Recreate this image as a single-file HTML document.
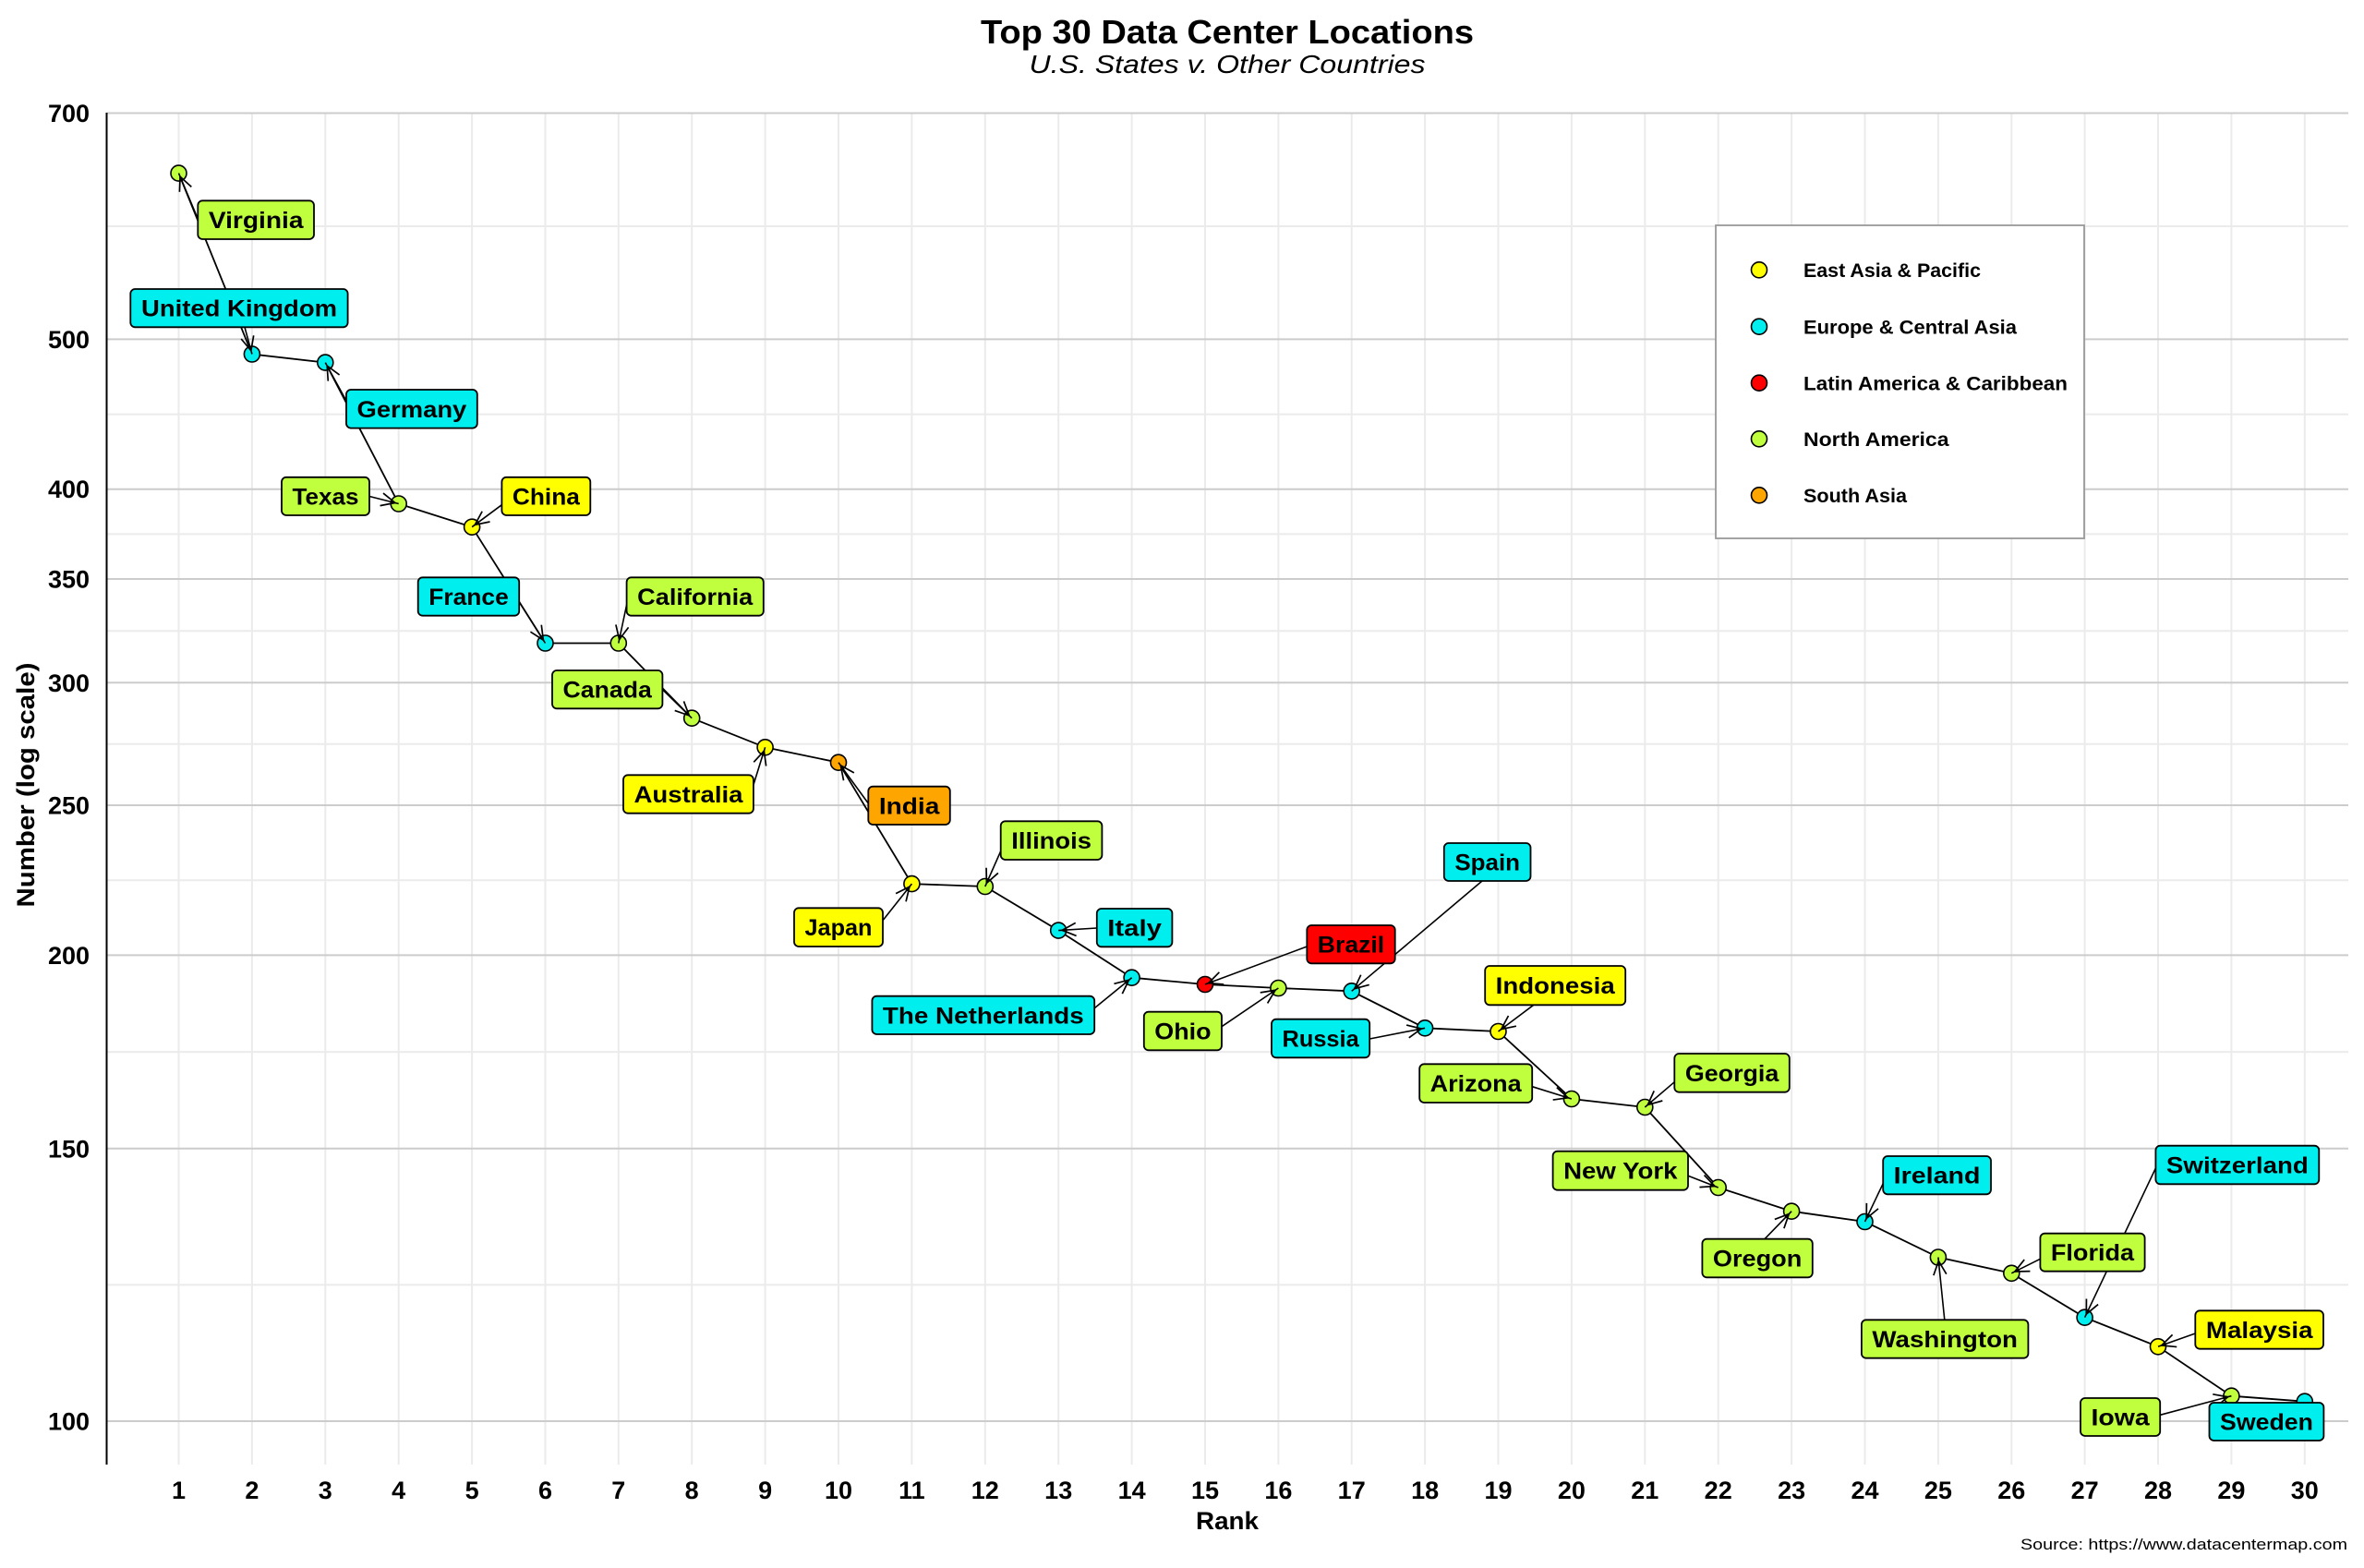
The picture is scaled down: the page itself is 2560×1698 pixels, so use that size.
<!DOCTYPE html>
<html><head><meta charset="utf-8"><style>
html,body{margin:0;padding:0;background:#fff;}
svg{display:block;}
text{font-family:"Liberation Sans",sans-serif;}
</style></head><body>
<svg width="2560" height="1698" viewBox="0 0 2560 1698" xmlns="http://www.w3.org/2000/svg">
<defs>
<marker id="ah" viewBox="-20 -10 30 20" markerWidth="30" markerHeight="20" refX="4" refY="0" markerUnits="userSpaceOnUse" orient="auto">
<path d="M-15,-7 L0,0 L-15,7" fill="none" stroke="#000" stroke-width="1.7"/>
</marker>
</defs>
<rect width="2560" height="1698" fill="#fff"/>
<!-- title -->
<text x="1329" y="47" font-size="36" font-weight="bold" text-anchor="middle" textLength="534" lengthAdjust="spacingAndGlyphs">Top 30 Data Center Locations</text>
<text x="1329" y="79" font-size="28" font-style="italic" text-anchor="middle" textLength="429" lengthAdjust="spacingAndGlyphs">U.S. States v. Other Countries</text>

<!-- minor horizontal grid -->
<g stroke="#ebebeb" stroke-width="2">
<line x1="116" x2="2543" y1="245" y2="245"/>
<line x1="116" x2="2543" y1="448.6" y2="448.6"/>
<line x1="116" x2="2543" y1="578.4" y2="578.4"/>
<line x1="116" x2="2543" y1="683.2" y2="683.2"/>
<line x1="116" x2="2543" y1="805.7" y2="805.7"/>
<line x1="116" x2="2543" y1="953.2" y2="953.2"/>
<line x1="116" x2="2543" y1="1139.1" y2="1139.1"/>
<line x1="116" x2="2543" y1="1391.4" y2="1391.4"/>
</g>
<!-- vertical grid -->
<g stroke="#ebebeb" stroke-width="2">
<line y1="122.5" y2="1586" x1="193.5" x2="193.5"/>
<line y1="122.5" y2="1586" x1="272.9" x2="272.9"/>
<line y1="122.5" y2="1586" x1="352.3" x2="352.3"/>
<line y1="122.5" y2="1586" x1="431.7" x2="431.7"/>
<line y1="122.5" y2="1586" x1="511.1" x2="511.1"/>
<line y1="122.5" y2="1586" x1="590.5" x2="590.5"/>
<line y1="122.5" y2="1586" x1="669.8" x2="669.8"/>
<line y1="122.5" y2="1586" x1="749.2" x2="749.2"/>
<line y1="122.5" y2="1586" x1="828.6" x2="828.6"/>
<line y1="122.5" y2="1586" x1="908.0" x2="908.0"/>
<line y1="122.5" y2="1586" x1="987.4" x2="987.4"/>
<line y1="122.5" y2="1586" x1="1066.8" x2="1066.8"/>
<line y1="122.5" y2="1586" x1="1146.2" x2="1146.2"/>
<line y1="122.5" y2="1586" x1="1225.6" x2="1225.6"/>
<line y1="122.5" y2="1586" x1="1305.0" x2="1305.0"/>
<line y1="122.5" y2="1586" x1="1384.4" x2="1384.4"/>
<line y1="122.5" y2="1586" x1="1463.7" x2="1463.7"/>
<line y1="122.5" y2="1586" x1="1543.1" x2="1543.1"/>
<line y1="122.5" y2="1586" x1="1622.5" x2="1622.5"/>
<line y1="122.5" y2="1586" x1="1701.9" x2="1701.9"/>
<line y1="122.5" y2="1586" x1="1781.3" x2="1781.3"/>
<line y1="122.5" y2="1586" x1="1860.7" x2="1860.7"/>
<line y1="122.5" y2="1586" x1="1940.1" x2="1940.1"/>
<line y1="122.5" y2="1586" x1="2019.5" x2="2019.5"/>
<line y1="122.5" y2="1586" x1="2098.9" x2="2098.9"/>
<line y1="122.5" y2="1586" x1="2178.3" x2="2178.3"/>
<line y1="122.5" y2="1586" x1="2257.6" x2="2257.6"/>
<line y1="122.5" y2="1586" x1="2337.0" x2="2337.0"/>
<line y1="122.5" y2="1586" x1="2416.4" x2="2416.4"/>
<line y1="122.5" y2="1586" x1="2495.8" x2="2495.8"/>
</g>
<!-- major horizontal grid -->
<g stroke="#cccccc" stroke-width="2">
<line x1="116" x2="2543" y1="122.5" y2="122.5"/>
<line x1="116" x2="2543" y1="367.4" y2="367.4"/>
<line x1="116" x2="2543" y1="529.8" y2="529.8"/>
<line x1="116" x2="2543" y1="627" y2="627"/>
<line x1="116" x2="2543" y1="739.3" y2="739.3"/>
<line x1="116" x2="2543" y1="872" y2="872"/>
<line x1="116" x2="2543" y1="1034.4" y2="1034.4"/>
<line x1="116" x2="2543" y1="1243.8" y2="1243.8"/>
<line x1="116" x2="2543" y1="1539" y2="1539"/>
</g>
<!-- left spine -->
<line x1="115.5" x2="115.5" y1="122" y2="1586" stroke="#000" stroke-width="2"/>

<!-- y tick labels -->
<g font-size="27" font-weight="bold" text-anchor="end">
<text x="97" y="132">700</text>
<text x="97" y="377">500</text>
<text x="97" y="539">400</text>
<text x="97" y="636.5">350</text>
<text x="97" y="749">300</text>
<text x="97" y="881.5">250</text>
<text x="97" y="1044">200</text>
<text x="97" y="1253.5">150</text>
<text x="97" y="1548.5">100</text>
</g>
<!-- x tick labels -->
<g font-size="27" font-weight="bold" text-anchor="middle">
<text x="193.5" y="1623">1</text>
<text x="272.9" y="1623">2</text>
<text x="352.3" y="1623">3</text>
<text x="431.7" y="1623">4</text>
<text x="511.1" y="1623">5</text>
<text x="590.5" y="1623">6</text>
<text x="669.8" y="1623">7</text>
<text x="749.2" y="1623">8</text>
<text x="828.6" y="1623">9</text>
<text x="908.0" y="1623">10</text>
<text x="987.4" y="1623">11</text>
<text x="1066.8" y="1623">12</text>
<text x="1146.2" y="1623">13</text>
<text x="1225.6" y="1623">14</text>
<text x="1305.0" y="1623">15</text>
<text x="1384.4" y="1623">16</text>
<text x="1463.7" y="1623">17</text>
<text x="1543.1" y="1623">18</text>
<text x="1622.5" y="1623">19</text>
<text x="1701.9" y="1623">20</text>
<text x="1781.3" y="1623">21</text>
<text x="1860.7" y="1623">22</text>
<text x="1940.1" y="1623">23</text>
<text x="2019.5" y="1623">24</text>
<text x="2098.9" y="1623">25</text>
<text x="2178.3" y="1623">26</text>
<text x="2257.6" y="1623">27</text>
<text x="2337.0" y="1623">28</text>
<text x="2416.4" y="1623">29</text>
<text x="2495.8" y="1623">30</text>
</g>
<text x="1329" y="1656" font-size="27" font-weight="bold" text-anchor="middle" textLength="68" lengthAdjust="spacingAndGlyphs">Rank</text>
<text transform="translate(37,850) rotate(-90)" x="0" y="0" font-size="27" font-weight="bold" text-anchor="middle" textLength="265" lengthAdjust="spacingAndGlyphs">Number (log scale)</text>
<text x="2542" y="1678" font-size="17" text-anchor="end" textLength="354" lengthAdjust="spacingAndGlyphs">Source: https://www.datacentermap.com</text>

<!-- data line -->
<polyline fill="none" stroke="#000" stroke-width="1.8" points="193.5,187.6 272.9,383.5 352.3,392.6 431.7,545.5 511.1,570.7 590.5,696.5 669.8,696.5 749.2,777.7 828.6,809.3 908.0,825.7 987.4,957.1 1066.8,960 1146.2,1007.6 1225.6,1058.7 1305.0,1066 1384.4,1070 1463.7,1073.3 1543.1,1113.3 1622.5,1117 1701.9,1190 1781.3,1199 1860.7,1286 1940.1,1311.7 2019.5,1323 2098.9,1361.5 2178.3,1378.8 2257.6,1426.7 2337.0,1458.3 2416.4,1511.7 2495.8,1517.7"/>

<!-- markers -->
<g stroke="#000" stroke-width="1.6">
<circle cx="193.5" cy="187.6" r="8.5" fill="#c0ff3e"/>
<circle cx="272.9" cy="383.5" r="8.5" fill="#00eeee"/>
<circle cx="352.3" cy="392.6" r="8.5" fill="#00eeee"/>
<circle cx="431.7" cy="545.5" r="8.5" fill="#c0ff3e"/>
<circle cx="511.1" cy="570.7" r="8.5" fill="#ffff00"/>
<circle cx="590.5" cy="696.5" r="8.5" fill="#00eeee"/>
<circle cx="669.8" cy="696.5" r="8.5" fill="#c0ff3e"/>
<circle cx="749.2" cy="777.7" r="8.5" fill="#c0ff3e"/>
<circle cx="828.6" cy="809.3" r="8.5" fill="#ffff00"/>
<circle cx="908.0" cy="825.7" r="8.5" fill="#ffa500"/>
<circle cx="987.4" cy="957.1" r="8.5" fill="#ffff00"/>
<circle cx="1066.8" cy="960" r="8.5" fill="#c0ff3e"/>
<circle cx="1146.2" cy="1007.6" r="8.5" fill="#00eeee"/>
<circle cx="1225.6" cy="1058.7" r="8.5" fill="#00eeee"/>
<circle cx="1305.0" cy="1066" r="8.5" fill="#ff0000"/>
<circle cx="1384.4" cy="1070" r="8.5" fill="#c0ff3e"/>
<circle cx="1463.7" cy="1073.3" r="8.5" fill="#00eeee"/>
<circle cx="1543.1" cy="1113.3" r="8.5" fill="#00eeee"/>
<circle cx="1622.5" cy="1117" r="8.5" fill="#ffff00"/>
<circle cx="1701.9" cy="1190" r="8.5" fill="#c0ff3e"/>
<circle cx="1781.3" cy="1199" r="8.5" fill="#c0ff3e"/>
<circle cx="1860.7" cy="1286" r="8.5" fill="#c0ff3e"/>
<circle cx="1940.1" cy="1311.7" r="8.5" fill="#c0ff3e"/>
<circle cx="2019.5" cy="1323" r="8.5" fill="#00eeee"/>
<circle cx="2098.9" cy="1361.5" r="8.5" fill="#c0ff3e"/>
<circle cx="2178.3" cy="1378.8" r="8.5" fill="#c0ff3e"/>
<circle cx="2257.6" cy="1426.7" r="8.5" fill="#00eeee"/>
<circle cx="2337.0" cy="1458.3" r="8.5" fill="#ffff00"/>
<circle cx="2416.4" cy="1511.7" r="8.5" fill="#c0ff3e"/>
<circle cx="2495.8" cy="1517.7" r="8.5" fill="#00eeee"/>
</g>

<!-- arrows -->
<g stroke="#000" stroke-width="1.6" fill="none" marker-end="url(#ah)">
<line x1="214.3" y1="237" x2="193.5" y2="187.6"/>
<line x1="265" y1="354.3" x2="272.9" y2="383.5"/>
<line x1="375" y1="434" x2="352.3" y2="392.6"/>
<line x1="400" y1="537.5" x2="431.7" y2="545.5"/>
<line x1="543.4" y1="546.7" x2="511.1" y2="570.7"/>
<line x1="562.2" y1="651.7" x2="590.5" y2="696.5"/>
<line x1="678.6" y1="655" x2="669.8" y2="696.5"/>
<line x1="717.4" y1="746.7" x2="749.2" y2="777.7"/>
<line x1="815.9" y1="850" x2="828.6" y2="809.3"/>
<line x1="940.3" y1="870" x2="908.0" y2="825.7"/>
<line x1="956" y1="996.7" x2="987.4" y2="957.1"/>
<line x1="1083.7" y1="921.7" x2="1066.8" y2="960"/>
<line x1="1187.8" y1="1005" x2="1146.2" y2="1007.6"/>
<line x1="1185.2" y1="1091.7" x2="1225.6" y2="1058.7"/>
<line x1="1415.3" y1="1025" x2="1305.0" y2="1066"/>
<line x1="1323" y1="1111.7" x2="1384.4" y2="1070"/>
<line x1="1605" y1="954" x2="1463.7" y2="1073.3"/>
<line x1="1483.2" y1="1125" x2="1543.1" y2="1113.3"/>
<line x1="1660.7" y1="1088.3" x2="1622.5" y2="1117"/>
<line x1="1659.2" y1="1176.7" x2="1701.9" y2="1190"/>
<line x1="1813.3" y1="1171.7" x2="1781.3" y2="1199"/>
<line x1="1828" y1="1273.3" x2="1860.7" y2="1286"/>
<line x1="1911" y1="1341.7" x2="1940.1" y2="1311.7"/>
<line x1="2039.2" y1="1281.7" x2="2019.5" y2="1323"/>
<line x1="2105.8" y1="1429.3" x2="2098.9" y2="1361.5"/>
<line x1="2209.4" y1="1363.3" x2="2178.3" y2="1378.8"/>
<line x1="2334.4" y1="1265" x2="2257.6" y2="1426.7"/>
<line x1="2377.3" y1="1444" x2="2337.0" y2="1458.3"/>
<line x1="2339.2" y1="1532.3" x2="2416.4" y2="1511.7"/>
</g>

<!-- label boxes -->
<g stroke="#000" stroke-width="1.8">
<rect x="214.3" y="217.3" width="125.7" height="41.7" rx="5" fill="#c0ff3e"/>
<rect x="141.3" y="313" width="235.3" height="41.3" rx="5" fill="#00eeee"/>
<rect x="375" y="422" width="141.8" height="41.6" rx="5" fill="#00eeee"/>
<rect x="305" y="516.8" width="95" height="41.2" rx="5" fill="#c0ff3e"/>
<rect x="543.4" y="516.8" width="95.9" height="41.2" rx="5" fill="#ffff00"/>
<rect x="452.7" y="625.3" width="109.5" height="41.4" rx="5" fill="#00eeee"/>
<rect x="678.6" y="625.3" width="148.2" height="41.4" rx="5" fill="#c0ff3e"/>
<rect x="598" y="726" width="119.4" height="41.3" rx="5" fill="#c0ff3e"/>
<rect x="675" y="839.3" width="140.9" height="41.4" rx="5" fill="#ffff00"/>
<rect x="940.3" y="851.7" width="88.5" height="41.3" rx="5" fill="#ffa500"/>
<rect x="860" y="983.3" width="96" height="41.7" rx="5" fill="#ffff00"/>
<rect x="1083.7" y="889.3" width="109.7" height="41.7" rx="5" fill="#c0ff3e"/>
<rect x="1187.8" y="984" width="81.6" height="41.3" rx="5" fill="#00eeee"/>
<rect x="944.4" y="1078.7" width="240.8" height="41.3" rx="5" fill="#00eeee"/>
<rect x="1415.3" y="1002" width="95.4" height="41.3" rx="5" fill="#ff0000"/>
<rect x="1238.8" y="1095.7" width="84.2" height="41.6" rx="5" fill="#c0ff3e"/>
<rect x="1563.8" y="913" width="93.7" height="41" rx="5" fill="#00eeee"/>
<rect x="1377" y="1103.7" width="106.2" height="41.6" rx="5" fill="#00eeee"/>
<rect x="1608.2" y="1046" width="152" height="42.3" rx="5" fill="#ffff00"/>
<rect x="1537.2" y="1152.3" width="122" height="41.7" rx="5" fill="#c0ff3e"/>
<rect x="1813.3" y="1141" width="124.5" height="41.7" rx="5" fill="#c0ff3e"/>
<rect x="1681.6" y="1246.7" width="146.4" height="42" rx="5" fill="#c0ff3e"/>
<rect x="1843.4" y="1341.7" width="119.4" height="41.6" rx="5" fill="#c0ff3e"/>
<rect x="2039.2" y="1252" width="116.8" height="41.3" rx="5" fill="#00eeee"/>
<rect x="2015.9" y="1429.3" width="180.5" height="41.4" rx="5" fill="#c0ff3e"/>
<rect x="2209.4" y="1335.7" width="113.2" height="41" rx="5" fill="#c0ff3e"/>
<rect x="2334.4" y="1240.7" width="176.9" height="41.6" rx="5" fill="#00eeee"/>
<rect x="2377.3" y="1419.3" width="138.7" height="41.4" rx="5" fill="#ffff00"/>
<rect x="2253" y="1514" width="86.2" height="41" rx="5" fill="#c0ff3e"/>
<rect x="2392.5" y="1519" width="123.9" height="41" rx="5" fill="#00eeee"/>
</g>
<g font-size="25" font-weight="bold" text-anchor="middle" lengthAdjust="spacingAndGlyphs">
<text x="277.2" y="247.2" textLength="102.7" lengthAdjust="spacingAndGlyphs">Virginia</text>
<text x="259" y="342.7" textLength="212" lengthAdjust="spacingAndGlyphs">United Kingdom</text>
<text x="445.9" y="451.8" textLength="118.8" lengthAdjust="spacingAndGlyphs">Germany</text>
<text x="352.5" y="546.4" textLength="72" lengthAdjust="spacingAndGlyphs">Texas</text>
<text x="591.4" y="546.4" textLength="73" lengthAdjust="spacingAndGlyphs">China</text>
<text x="507.5" y="655" textLength="86.5" lengthAdjust="spacingAndGlyphs">France</text>
<text x="752.7" y="655" textLength="125" lengthAdjust="spacingAndGlyphs">California</text>
<text x="657.7" y="755.7" textLength="96.4" lengthAdjust="spacingAndGlyphs">Canada</text>
<text x="745.5" y="869" textLength="118" lengthAdjust="spacingAndGlyphs">Australia</text>
<text x="984.6" y="881.4" textLength="65.5" lengthAdjust="spacingAndGlyphs">India</text>
<text x="908" y="1013.2" textLength="73" lengthAdjust="spacingAndGlyphs">Japan</text>
<text x="1138.6" y="919.2" textLength="86.7" lengthAdjust="spacingAndGlyphs">Illinois</text>
<text x="1228.6" y="1013.7" textLength="58.6" lengthAdjust="spacingAndGlyphs">Italy</text>
<text x="1064.8" y="1108.4" textLength="217.8" lengthAdjust="spacingAndGlyphs">The Netherlands</text>
<text x="1463" y="1031.7" textLength="72.4" lengthAdjust="spacingAndGlyphs">Brazil</text>
<text x="1280.9" y="1125.5" textLength="61.2" lengthAdjust="spacingAndGlyphs">Ohio</text>
<text x="1610.7" y="942.5" textLength="70.7" lengthAdjust="spacingAndGlyphs">Spain</text>
<text x="1430.1" y="1133.5" textLength="83.2" lengthAdjust="spacingAndGlyphs">Russia</text>
<text x="1684.2" y="1076.2" textLength="129" lengthAdjust="spacingAndGlyphs">Indonesia</text>
<text x="1598.2" y="1182.2" textLength="99" lengthAdjust="spacingAndGlyphs">Arizona</text>
<text x="1875.6" y="1170.9" textLength="101.5" lengthAdjust="spacingAndGlyphs">Georgia</text>
<text x="1754.8" y="1276.7" textLength="123.4" lengthAdjust="spacingAndGlyphs">New York</text>
<text x="1903.1" y="1371.5" textLength="96.4" lengthAdjust="spacingAndGlyphs">Oregon</text>
<text x="2097.6" y="1281.7" textLength="93.8" lengthAdjust="spacingAndGlyphs">Ireland</text>
<text x="2106.2" y="1459" textLength="157.5" lengthAdjust="spacingAndGlyphs">Washington</text>
<text x="2266" y="1365.2" textLength="90.2" lengthAdjust="spacingAndGlyphs">Florida</text>
<text x="2422.9" y="1270.5" textLength="153.9" lengthAdjust="spacingAndGlyphs">Switzerland</text>
<text x="2446.7" y="1449" textLength="115.7" lengthAdjust="spacingAndGlyphs">Malaysia</text>
<text x="2296.1" y="1543.5" textLength="63.2" lengthAdjust="spacingAndGlyphs">Iowa</text>
<text x="2454.5" y="1548.5" textLength="100.9" lengthAdjust="spacingAndGlyphs">Sweden</text>
</g>

<!-- legend -->
<rect x="1858" y="244" width="399" height="339" fill="#fff" stroke="#999" stroke-width="1.8"/>
<g stroke="#000" stroke-width="1.6">
<circle cx="1905" cy="292.3" r="8.5" fill="#ffff00"/>
<circle cx="1905" cy="353.7" r="8.5" fill="#00eeee"/>
<circle cx="1905" cy="414.7" r="8.5" fill="#ff0000"/>
<circle cx="1905" cy="475.3" r="8.5" fill="#c0ff3e"/>
<circle cx="1905" cy="536.3" r="8.5" fill="#ffa500"/>
</g>
<g font-size="21" font-weight="bold">
<text x="1953" y="300" textLength="192" lengthAdjust="spacingAndGlyphs">East Asia &amp; Pacific</text>
<text x="1953" y="361.5" textLength="231" lengthAdjust="spacingAndGlyphs">Europe &amp; Central Asia</text>
<text x="1953" y="422.5" textLength="286" lengthAdjust="spacingAndGlyphs">Latin America &amp; Caribbean</text>
<text x="1953" y="483" textLength="157.5" lengthAdjust="spacingAndGlyphs">North America</text>
<text x="1953" y="544" textLength="112" lengthAdjust="spacingAndGlyphs">South Asia</text>
</g>
</svg>
</body></html>
